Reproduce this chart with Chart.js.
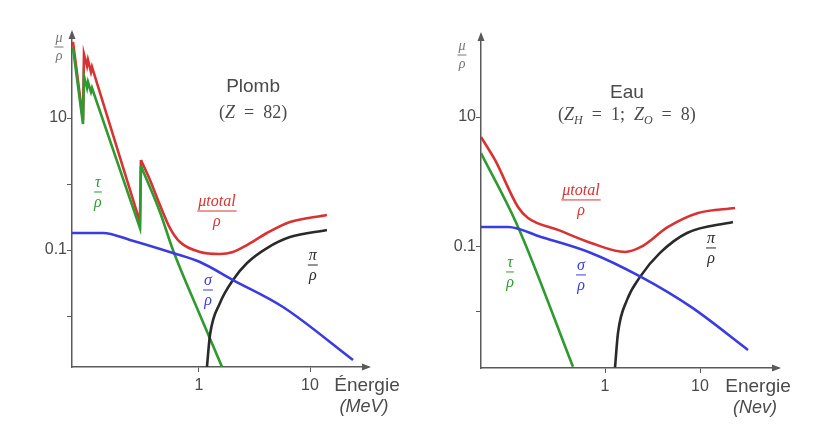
<!DOCTYPE html>
<html>
<head>
<meta charset="utf-8">
<script src="https://cdn.jsdelivr.net/npm/chart.js@4.4.1/dist/chart.umd.min.js"></script>
<style>
  html, body { margin: 0; padding: 0; background: #fff; }
  .row { display: flex; width: 816px; height: 433px; }
  .panel { width: 408px; height: 433px; }
</style>
</head>
<body>
<div class="row">
  <div class="panel"><canvas id="plomb" width="408" height="433"></canvas></div>
  <div class="panel"><canvas id="eau" width="408" height="433"></canvas></div>
</div>
<script>
// Plomb (Z = 82) - energie en MeV, coefficient massique
const plombTotalEdgeE = [0.0733, 0.0902, 0.092, 0.098, 0.100, 0.1064, 0.1087, 0.294, 0.300];
const plombTotalEdgeMu = [142, 9.33, 93.3, 61.4, 75.7, 49.8, 59.3, 0.2655, 2.31];
const plombTotalE = [0.300, 0.362, 0.445, 0.548, 0.674, 1.02, 1.546, 2.024, 2.71, 4.10, 6.60, 14.2];
const plombTotalMu = [2.31, 1.15, 0.481, 0.215, 0.132, 0.0933, 0.087, 0.0933, 0.119, 0.181, 0.2655, 0.339];
const plombPhotoEdgeE = [0.0733, 0.0902, 0.092, 0.098, 0.100, 0.1064, 0.1087, 0.294, 0.300];
const plombPhotoEdgeMu = [115, 8.11, 43.3, 28.5, 35.1, 24.8, 28.5, 0.215, 1.87];
const plombPhotoE = [0.300, 0.445, 0.583, 1.02, 1.61];
const plombPhotoMu = [1.87, 0.377, 0.1, 0.01036, 0.0017];
const plombComptonE = [0.0718, 0.1365, 0.239, 0.583, 1.02, 2.024, 5.71, 24.4];
const plombComptonMu = [0.181, 0.181, 0.142, 0.0901, 0.0658, 0.0351, 0.0137, 0.00216];
const plombPairE = [1.18, 1.256, 1.546, 2.024, 2.71, 4.10, 6.60, 14.2];
const plombPairMu = [0.0017, 0.00515, 0.01574, 0.0351, 0.0635, 0.107, 0.157, 0.201];

// Eau (Z_H = 1; Z_O = 8)
const eauTotalE = [0.0495, 0.0695, 0.1214, 0.1546, 0.320, 0.712, 1.624, 2.39, 4.61, 9.53, 23.4];
const eauTotalMu = [4.92, 2.18, 0.412, 0.279, 0.183, 0.1152, 0.0838, 0.1, 0.203, 0.333, 0.398];
const eauPhotoE = [0.0495, 0.1214, 0.460];
const eauPhotoMu = [2.79, 0.203, 0.00143];
const eauComptonE = [0.0495, 0.0953, 0.212, 0.712, 2.39, 8.04, 32.0];
const eauComptonMu = [0.203, 0.203, 0.1426, 0.0809, 0.0346, 0.01194, 0.0026];
const eauPairE = [1.274, 1.370, 1.705, 2.335, 3.79, 7.30, 22.2];
const eauPairMu = [0.0014, 0.00475, 0.0153, 0.0346, 0.0809, 0.164, 0.2426];

// graduations
const xTicks = [1, 10];
const xTickLabels = ['1', '10'];
const plombYTicks = [0.01, 0.1, 1, 10];
const plombYTickLabels = ['', '0.1', '', '10'];
const eauYTicks = [0.01, 0.1, 10];
const eauYTickLabels = ['', '0.1', '10'];

const RED = '#d83232';
const GREEN = '#2f9a30';
const BLUE = '#3b3be2';
const BLACK = '#2a2a2a';
const AXIS = '#5a5a5a';
const TEXT = '#4a4a4a';

const pts = (es, mus) => es.map((e, i) => ({ x: e, y: mus[i] }));

function drawRich(ctx, parts, cx, cy, size, color, family) {
    const fontOf = p => `${p.i ? 'italic ' : ''}${p.sub ? Math.round(size * 0.68) : size}px ${family}`;
    let w = 0;
    parts.forEach(p => { ctx.font = fontOf(p); w += ctx.measureText(p.t).width; });
    let xx = cx - w / 2;
    ctx.fillStyle = color;
    ctx.textAlign = 'left';
    ctx.textBaseline = 'middle';
    parts.forEach(p => {
        ctx.font = fontOf(p);
        ctx.fillText(p.t, xx, cy + (p.sub ? size * 0.3 : 0));
        xx += ctx.measureText(p.t).width;
    });
    return w;
}

function drawFrac(ctx, cx, cy, f, size) {
    const fam = '"Liberation Serif"';
    ctx.font = `italic ${size}px ${fam}`;
    let w = drawRich(ctx, f.num, cx, cy - size * 0.6, size, f.color, fam);
    ctx.strokeStyle = f.color;
    ctx.lineWidth = 1;
    ctx.beginPath();
    ctx.moveTo(cx - w / 2 - 1, cy);
    ctx.lineTo(cx + w / 2 + 1, cy);
    ctx.stroke();
    drawRich(ctx, [{ t: 'ρ', i: true }], cx, cy + size * 0.7, size, f.color, fam);
}

const annotate = {
    id: 'annotate',
    afterDraw(chart) {
        const cfg = chart.options.plugins.annotate;
        const { ctx, chartArea: a, scales: { x, y } } = chart;
        ctx.save();
        // fleches des axes
        ctx.fillStyle = AXIS;
        ctx.beginPath();
        ctx.moveTo(a.left, a.top - 3);
        ctx.lineTo(a.left - 3.5, a.top + 6);
        ctx.lineTo(a.left + 3.5, a.top + 6);
        ctx.closePath();
        ctx.fill();
        ctx.beginPath();
        ctx.moveTo(a.right + 3, a.bottom);
        ctx.lineTo(a.right - 6, a.bottom - 3.5);
        ctx.lineTo(a.right - 6, a.bottom + 3.5);
        ctx.closePath();
        ctx.fill();

        // mu / rho sur l'axe vertical
        drawFrac(ctx, a.left + cfg.axisLabel.dx, a.top + cfg.axisLabel.dy,
            { num: [{ t: 'μ', i: true }], color: '#777' }, 14);

        // titre
        ctx.font = '19px "Liberation Sans"';
        ctx.fillStyle = TEXT;
        ctx.textAlign = 'center';
        ctx.textBaseline = 'middle';
        const tx = x.getPixelForValue(cfg.title.e);
        ctx.fillText(cfg.title.text, tx, y.getPixelForValue(cfg.title.mu));
        drawRich(ctx, cfg.title.formula, tx, y.getPixelForValue(cfg.title.mu2), 18, TEXT, '"Liberation Serif"');

        // fractions des courbes
        cfg.fracs.forEach(f => drawFrac(ctx, x.getPixelForValue(f.e), y.getPixelForValue(f.mu), f, 16));

        // Energie
        const ex = x.getPixelForValue(cfg.energy.e);
        ctx.font = '19px "Liberation Sans"';
        ctx.fillStyle = TEXT;
        ctx.textAlign = 'center';
        ctx.textBaseline = 'middle';
        ctx.fillText(cfg.energy.text, ex, a.bottom + 19);
        ctx.font = 'italic 18px "Liberation Sans"';
        ctx.fillText(cfg.energy.unit, ex - 3, a.bottom + 40);
        ctx.restore();
    }
};

function line(data, color, smooth) {
    return {
        data: data,
        borderColor: color,
        borderWidth: 2.6,
        pointRadius: 0,
        fill: false,
        tension: smooth ? 0.4 : 0,
        cubicInterpolationMode: smooth ? 'monotone' : 'default'
    };
}

function makeChart(id, p) {
    const ctx = document.getElementById(id).getContext('2d');
    return new Chart(ctx, {
        type: 'line',
        data: { datasets: p.datasets },
        options: {
            responsive: false,
            animation: false,
            layout: { padding: { top: p.top, right: p.right, left: 0, bottom: 0 } },
            plugins: { legend: { display: false }, tooltip: { enabled: false }, annotate: p.annotate },
            scales: {
                x: {
                    type: 'logarithmic',
                    min: p.xMin,
                    max: p.xMax,
                    grid: { drawOnChartArea: false, tickLength: 5, color: AXIS },
                    border: { color: AXIS, width: 1.5 },
                    ticks: {
                        font: { family: 'Liberation Sans', size: 16 },
                        color: TEXT,
                        padding: 4,
                        maxRotation: 0,
                        autoSkip: false,
                        callback: (v, i) => xTickLabels[i]
                    },
                    afterBuildTicks: s => { s.ticks = xTicks.map(v => ({ value: v })); },
                    afterFit: s => { s.height = p.xHeight; }
                },
                y: {
                    type: 'logarithmic',
                    min: p.yMin,
                    max: p.yMax,
                    grid: { drawOnChartArea: false, tickLength: 5, color: AXIS },
                    border: { color: AXIS, width: 1.5 },
                    ticks: {
                        font: { family: 'Liberation Sans', size: 16 },
                        color: TEXT,
                        padding: 0,
                        autoSkip: false,
                        callback: (v, i) => p.yLabels[i]
                    },
                    afterBuildTicks: s => { s.ticks = p.yTicks.map(v => ({ value: v })); },
                    afterFit: s => { s.width = p.yWidth; }
                }
            }
        },
        plugins: [annotate]
    });
}

makeChart('plomb', {
    top: 33, right: 40, xHeight: 66, yWidth: 72,
    xMin: 0.0718, xMax: 33.3, yMin: 0.00169, yMax: 194,
    yTicks: plombYTicks, yLabels: plombYTickLabels,
    datasets: [
        line(pts(plombComptonE, plombComptonMu), BLUE, true),
        line(pts(plombPairE, plombPairMu), BLACK, true),
        line(pts(plombPhotoEdgeE, plombPhotoEdgeMu), GREEN, false),
        line(pts(plombPhotoE, plombPhotoMu), GREEN, true),
        line(pts(plombTotalEdgeE, plombTotalEdgeMu), RED, false),
        line(pts(plombTotalE, plombTotalMu), RED, true)
    ],
    annotate: {
        axisLabel: { dx: -13, dy: 14 },
        title: { text: 'Plomb', e: 3.07, mu: 29.5, mu2: 11.9,
            formula: [{ t: '(' }, { t: 'Z', i: true }, { t: '  =  82)' }] },
        fracs: [
            { num: [{ t: 'τ', i: true }], e: 0.123, mu: 0.757, color: GREEN },
            { num: [{ t: 'μ', i: true }, { t: 'total', i: true }], e: 1.45, mu: 0.39, color: RED },
            { num: [{ t: 'σ', i: true }], e: 1.205, mu: 0.0248, color: BLUE },
            { num: [{ t: 'π', i: true }], e: 10.6, mu: 0.0593, color: BLACK }
        ],
        energy: { text: 'Énergie', unit: '(MeV)', e: 32.6 }
    }
});

makeChart('eau', {
    top: 35, right: 38, xHeight: 65, yWidth: 73,
    xMin: 0.0495, xMax: 66.2, yMin: 0.00137, yMax: 183,
    yTicks: eauYTicks, yLabels: eauYTickLabels,
    datasets: [
        line(pts(eauComptonE, eauComptonMu), BLUE, true),
        line(pts(eauPairE, eauPairMu), BLACK, true),
        line(pts(eauPhotoE, eauPhotoMu), GREEN, true),
        line(pts(eauTotalE, eauTotalMu), RED, true)
    ],
    annotate: {
        axisLabel: { dx: -19, dy: 20 },
        title: { text: 'Eau', e: 1.70, mu: 23.4, mu2: 10.7,
            formula: [{ t: '(' }, { t: 'Z', i: true }, { t: 'H', i: true, sub: true }, { t: '  =  1;  ' },
                { t: 'Z', i: true }, { t: 'O', i: true, sub: true }, { t: '  =  8)' }] },
        fracs: [
            { num: [{ t: 'μ', i: true }, { t: 'total', i: true }], e: 0.559, mu: 0.529, color: RED },
            { num: [{ t: 'τ', i: true }], e: 0.1, mu: 0.0412, color: GREEN },
            { num: [{ t: 'σ', i: true }], e: 0.559, mu: 0.0371, color: BLUE },
            { num: [{ t: 'π', i: true }], e: 13.06, mu: 0.0965, color: BLACK }
        ],
        energy: { text: 'Energie', unit: '(Nev)', e: 40.8 }
    }
});
</script>
</body>
</html>
